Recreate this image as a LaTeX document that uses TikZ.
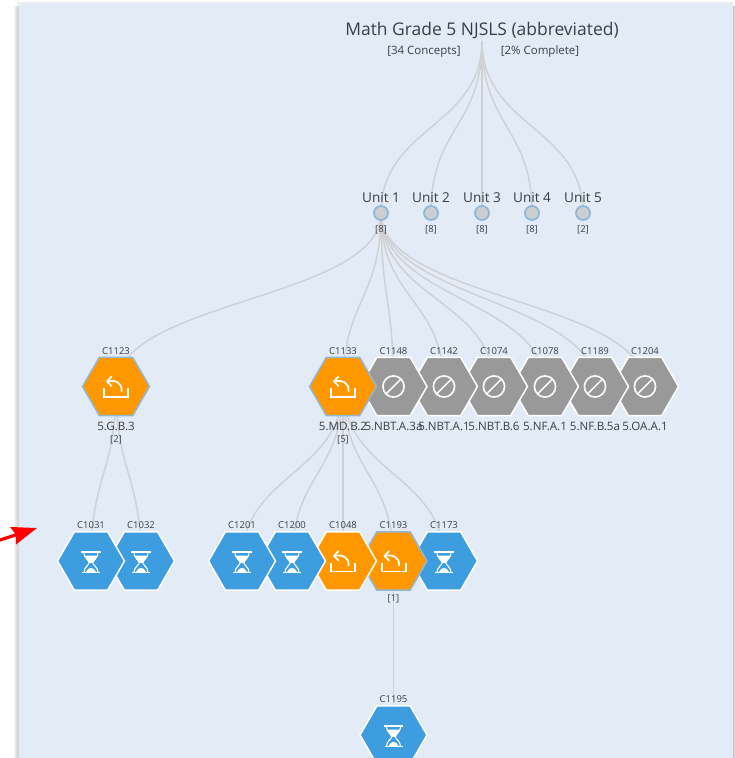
\documentclass[tikz,border=0pt]{standalone}
\usepackage{fontspec}
\setmainfont{Open Sans}
\usetikzlibrary{calc,shapes.geometric,backgrounds,arrows.meta}
\definecolor{panelbg}{HTML}{E3ECF6}
\definecolor{edgegray}{HTML}{CFD1D4}
\definecolor{hexorange}{HTML}{FF9800}
\definecolor{hexblue}{HTML}{3D9DDE}
\definecolor{hexgray}{HTML}{999999}
\definecolor{selborder}{HTML}{8FB8D8}
\definecolor{unitfill}{HTML}{CCCED0}
\definecolor{txt}{HTML}{3A3F44}
\tikzset{
  hexbase/.style={regular polygon,regular polygon sides=6,inner sep=0pt,outer sep=0pt,minimum size=67pt,line width=1.5pt,draw=white},
  hexo/.style={hexbase,fill=hexorange},
  hexsel/.style={hexbase,fill=hexorange,draw=selborder},
  hexb/.style={hexbase,fill=hexblue},
  hexg/.style={hexbase,fill=hexgray},
  unitdot/.style={circle,inner sep=0pt,outer sep=0pt,minimum size=14pt,fill=unitfill,draw=selborder,line width=1.8pt},
  lab/.style={anchor=base,inner sep=0pt,text=txt},
  ttl/.style={lab,font=\fontsize{17.45}{20}\selectfont},
  sub/.style={lab,font=\fontsize{11.5}{13}\selectfont},
  unt/.style={lab,font=\fontsize{13.6}{16}\selectfont},
  cnt/.style={lab,font=\fontsize{9.5}{11}\selectfont},
  cid/.style={lab,font=\fontsize{9.5}{11}\selectfont},
  std/.style={lab,font=\fontsize{11.6}{13}\selectfont},
  treeedge/.style={to path={let \p1=(\tikztostart),\p2=(\tikztotarget),\p3=($(\tikztostart)!.5!(\tikztotarget)$) in .. controls (\x1,\y3) and (\x2,\y3) .. (\tikztotarget)}},
  edge/.style={draw=edgegray,line width=1.5pt,treeedge},
  iconline/.style={draw=white,line width=1.7pt,fill=none},
  returnicon/.pic={
    \draw[iconline] (-11.7,1.7) -- (-11.7,10.5) -- (12.3,10.5) -- (12.3,1.7);
    \draw[iconline,line join=round] (-4.3,-10.2) -- (-9,-5.2) -- (-4.3,-0.2);
    \draw[iconline] (-9,-5.2) .. controls (-1,-6.8) and (6.6,-4) .. (5.6,5);
  },
  hourglassicon/.pic={
    \draw[iconline] (-9.8,-9) -- (9.8,-9);
    \draw[iconline] (-9,11.5) -- (9,11.5);
    \fill[white] (-6,-5.5) -- (6,-5.5) .. controls (5.5,-1.5) and (2,0) .. (1.6,1.8) -- (-1.6,1.8) .. controls (-2,0) and (-5.5,-1.5) .. (-6,-5.5) -- cycle;
    \draw[iconline,line width=1.1pt] (-7,-9) .. controls (-7,-2) and (-1.8,-1) .. (-1.8,1.8) .. controls (-1.8,4) and (-7,6) .. (-7,11.5);
    \draw[iconline,line width=1.1pt] (7,-9) .. controls (7,-2) and (1.8,-1) .. (1.8,1.8) .. controls (1.8,4) and (7,6) .. (7,11.5);
    \fill[white] (-5,11) .. controls (-4.5,8) and (-1.5,7.5) .. (0,6.8) .. controls (1.5,7.5) and (4.5,8) .. (5,11) -- cycle;
  },
  blockicon/.pic={
    \draw[draw=white!92!hexgray,line width=1.7pt] (0,0) circle[radius=10.6];
    \draw[draw=white!92!hexgray,line width=1.7pt] (-7.5,7.5) -- (7.5,-7.5);
  }
}
\begin{document}
\begin{tikzpicture}[x=1pt,y=-1pt]
\useasboundingbox (0,0) rectangle (734,758);
\clip (0,0) rectangle (734,758);
% page and panel
\begin{scope}[on background layer]
  \fill[white] (0,0) rectangle (734,758);
  \fill[left color=white,right color=black!24] (13,6) rectangle (19,758);
  \fill[left color=black!24,right color=white] (733,6) rectangle (737,758);
  \fill[top color=white,bottom color=black!8] (17,0) rectangle (733,3);
  \fill[panelbg,rounded corners=2pt] (18.5,3) rectangle (733,770);
\end{scope}
% anchors
\coordinate (root) at (482,41);
\coordinate (arrowfrom) at (-3,541);
\coordinate (arrowtip) at (37,528);
% titles
\node[ttl] (title) at (482,35) {Math Grade 5 NJSLS (abbreviated)};
\node[sub] (concepts) at (424,54) {[34 Concepts]};
\node[sub] (complete) at (540,54) {[2\% Complete]};
% units
\foreach \nm/\xx/\cc in {1/381/8,2/431/8,3/482/8,4/532/8,5/583/2}{
  \node[unitdot] (u\nm) at (\xx,213) {};
  \node[unt] (ul\nm) at (\xx,202) {Unit \nm};
  \node[cnt] (uc\nm) at (\xx,232.5) {[\cc]};
}
% hexagons, last first so the left one lies on top
\foreach \id/\xx/\st in {1204/645/hexg,1189/595/hexg,1078/545/hexg,1074/494/hexg,1142/444/hexg,1148/393.5/hexg,1133/343/hexsel,1123/116/hexsel}{
  \node[\st] (c\id) at (\xx,386.5) {};
  \ifnum\id=1133 \pic at (c\id) {returnicon};\else\ifnum\id=1123 \pic at (c\id) {returnicon};\else \pic at (c\id) {blockicon};\fi\fi
  \node[cid] (t\id) at (\xx,354) {C\id};
}
\foreach \id/\xx/\st in {1173/444/hexb,1193/393.5/hexsel,1048/343/hexo,1200/292/hexb,1201/242/hexb,1032/141/hexb,1031/91/hexb}{
  \node[\st] (c\id) at (\xx,561) {};
  \ifnum\id=1193 \pic at (c\id) {returnicon};\else\ifnum\id=1048 \pic at (c\id) {returnicon};\else \pic at (c\id) {hourglassicon};\fi\fi
  \node[cid] (t\id) at (\xx,528) {C\id};
}
\node[hexb] (c1195) at (393.5,735) {};
\pic at (c1195) {hourglassicon};
\node[cid] (t1195) at (393.5,702) {C1195};
% standard labels
\node[std] (s1123) at (116,430) {5.G.B.3};
\node[cnt] (n1123) at (116,442.5) {[2]};
\node[std] (s1133) at (343,430) {5.MD.B.2};
\node[cnt] (n1133) at (343,442.5) {[5]};
\node[std] (s1148) at (393.5,430) {5.NBT.A.3a};
\node[std] (s1142) at (444,430) {5.NBT.A.1};
\node[std] (s1074) at (494,430) {5.NBT.B.6};
\node[std] (s1078) at (545,430) {5.NF.A.1};
\node[std] (s1189) at (595,430) {5.NF.B.5a};
\node[std] (s1204) at (645,430) {5.OA.A.1};
\node[cnt] (n1193) at (393.5,601.5) {[1]};
% connectors
\begin{scope}[on background layer]
  \foreach \nm in {1,...,5} \path[edge] (root) to (u\nm.center);
  \foreach \id in {1123,1133,1148,1142,1074,1078,1189,1204} \path[edge] (u1.center) to (c\id.center);
  \foreach \id in {1031,1032} \path[edge] (c1123.center) to (c\id.center);
  \foreach \id in {1201,1200,1048,1193,1173} \path[edge] (c1133.center) to (c\id.center);
  \path[edge] (c1193.center) to (c1195.center);
\end{scope}
% red arrow
\draw[red,line width=3.2pt,-{Stealth[length=25pt,width=18pt,inset=3pt]}] (arrowfrom) -- (arrowtip);
\end{tikzpicture}
\end{document}
